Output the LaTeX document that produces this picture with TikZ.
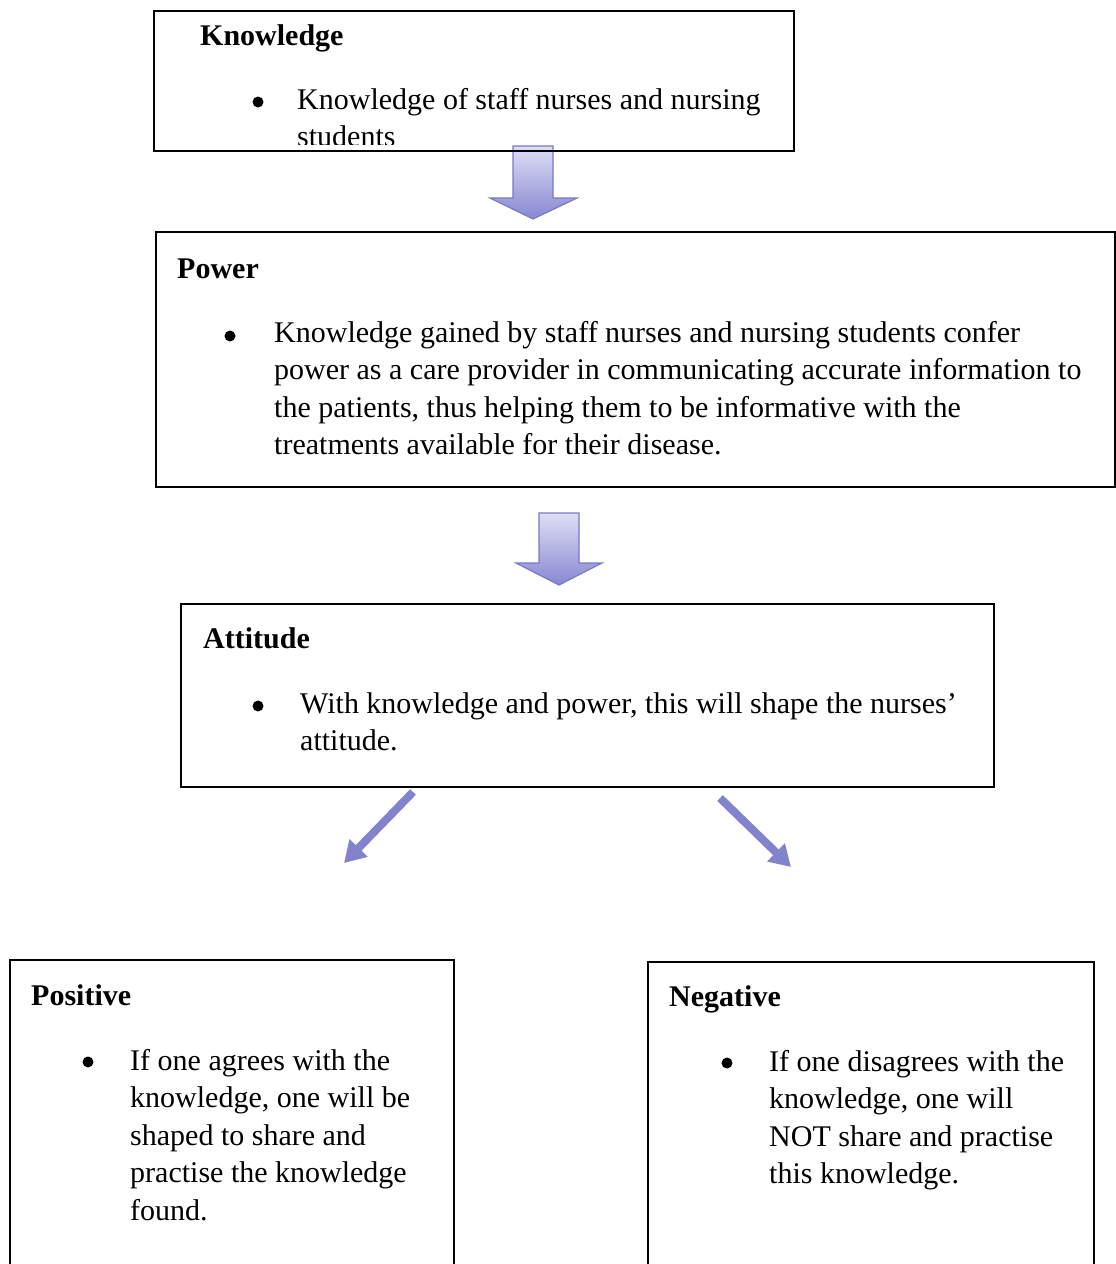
\documentclass[tikz,border=0pt]{standalone}
\usepackage{fontspec}
\setmainfont{Liberation Serif}
\usetikzlibrary{calc,arrows.meta}
\definecolor{arrowline}{RGB}{120,120,200}
\definecolor{arrowtop}{RGB}{222,222,245}
\definecolor{arrowbot}{RGB}{135,135,210}
\definecolor{diagcol}{RGB}{130,130,205}
\tikzset{
  boxframe/.style={draw=black, line width=1.6pt, fill=none, inner sep=0pt},
  headtxt/.style={anchor=base west, inner sep=0pt, font=\fontsize{30}{37.5}\selectfont\bfseries},
  bodytxt/.style={anchor=base west, inner sep=0pt, font=\fontsize{30}{37.5}\selectfont},
  bulletdot/.style={circle, fill=black, inner sep=0pt, minimum size=11pt},
  blockarrow/.style={draw=arrowline, line width=1.2pt, top color=arrowtop, bottom color=arrowbot, line join=miter},
  diagarrow/.style={draw=diagcol, line width=8pt, -{Triangle[length=21pt,width=24pt]}, line cap=butt},
}
\begin{document}
\begin{tikzpicture}[x=1pt,y=-1pt]
\useasboundingbox (0,0) rectangle (1116,1264);
\clip (0,0) rectangle (1116,1264);
\fill[white] (0,0) rectangle (1116,1264);

% ---------- block arrows ----------
\coordinate (a1top) at (533,146);
\coordinate (a2top) at (559,513);
\shade[blockarrow] ($(a1top)+(-20,0)$) -- ($(a1top)+(20,0)$) -- ($(a1top)+(20,52)$) -- ($(a1top)+(44,52)$)
   -- ($(a1top)+(0,73)$) -- ($(a1top)+(-43,52)$) -- ($(a1top)+(-20,52)$) -- cycle;
\shade[blockarrow] ($(a2top)+(-20,0)$) -- ($(a2top)+(20,0)$) -- ($(a2top)+(20,50)$) -- ($(a2top)+(43,50)$)
   -- ($(a2top)+(0,72)$) -- ($(a2top)+(-43,50)$) -- ($(a2top)+(-20,50)$) -- cycle;

% ---------- Box 1: Knowledge ----------
\node[boxframe, anchor=north west, minimum width=640, minimum height=140] (know) at (153,10) {};
\begin{scope}
\clip (153,10) rectangle (793,144);
\node[headtxt] (knowH) at (200,45) {Knowledge};
\node[bulletdot] (knowB) at (258,102) {};
\node[bodytxt] (knowT) at (297,109) {\parbox[t]{480pt}{\raggedright Knowledge of staff nurses and nursing\\students}};
\end{scope}

% ---------- Box 2: Power ----------
\node[boxframe, anchor=north west, minimum width=959, minimum height=255] (power) at (155,231) {};
\node[headtxt] (powerH) at (177,278) {Power};
\node[bulletdot] (powerB) at (230,336) {};
\node[bodytxt] (powerT) at (274,342) {\parbox[t]{840pt}{\raggedright Knowledge gained by staff nurses and nursing students confer\\power as a care provider in communicating accurate information to\\the patients, thus helping them to be informative with the\\treatments available for their disease.}};

% ---------- Box 3: Attitude ----------
\node[boxframe, anchor=north west, minimum width=813, minimum height=183] (att) at (180,603) {};
\node[headtxt] (attH) at (203,648) {Attitude};
\node[bulletdot] (attB) at (258,706) {};
\node[bodytxt] (attT) at (300,713) {\parbox[t]{680pt}{\raggedright With knowledge and power, this will shape the nurses’\\attitude.}};

% ---------- Box 4: Positive ----------
\node[boxframe, anchor=north west, minimum width=444, minimum height=330] (pos) at (9,959) {};
\node[headtxt] (posH) at (31,1005) {Positive};
\node[bulletdot] (posB) at (88,1062) {};
\node[bodytxt] (posT) at (130,1070) {\parbox[t]{320pt}{\raggedright If one agrees with the\\knowledge, one will be\\shaped to share and\\practise the knowledge\\found.}};

% ---------- Box 5: Negative ----------
\node[boxframe, anchor=north west, minimum width=446, minimum height=330] (neg) at (647,961) {};
\node[headtxt] (negH) at (669,1006) {Negative};
\node[bulletdot] (negB) at (727,1063) {};
\node[bodytxt] (negT) at (769,1071) {\parbox[t]{320pt}{\raggedright If one disagrees with the\\knowledge, one will\\NOT share and practise\\this knowledge.}};

% ---------- diagonal arrows ----------
\coordinate (dl1) at (413,792);
\coordinate (dl2) at (344,863);
\coordinate (dr1) at (720,798);
\coordinate (dr2) at (791,867);
\draw[diagarrow] (dl1) -- (dl2);
\draw[diagarrow] (dr1) -- (dr2);
\end{tikzpicture}
\end{document}
